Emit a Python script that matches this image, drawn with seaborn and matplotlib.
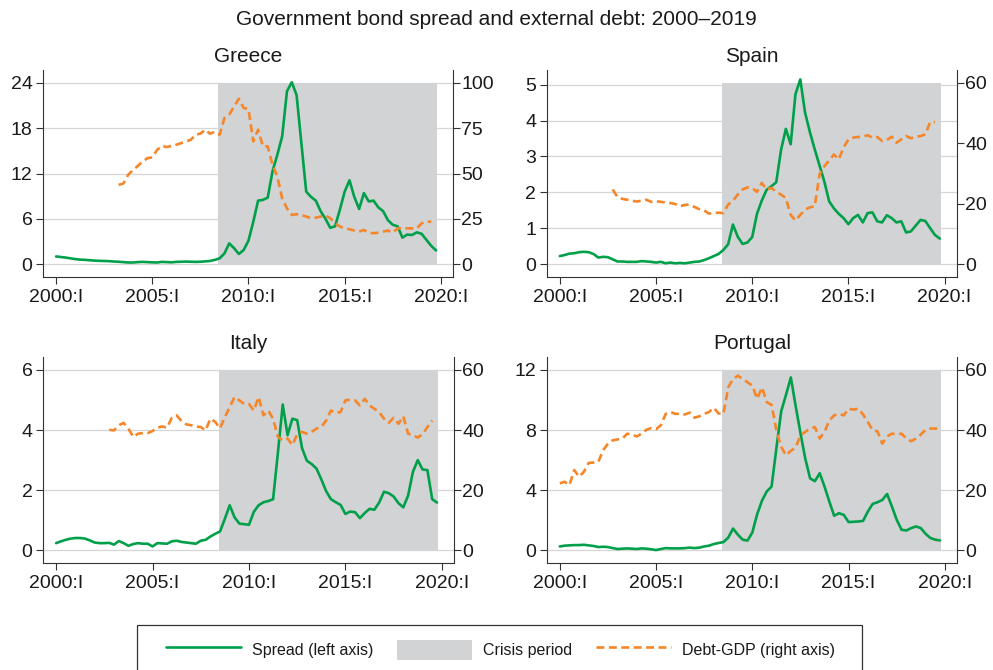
import numpy as np
import pandas as pd
import matplotlib
matplotlib.use("Agg")
import matplotlib.pyplot as plt
from matplotlib.patches import Rectangle, Patch
from matplotlib.lines import Line2D
import seaborn as sns

nan = np.nan

# Quarterly sample 2000:I - 2019:IV
quarters = pd.period_range("2000Q1", "2019Q4", freq="Q")
crisis_start, crisis_end = "2008Q3", "2019Q4"

# Government bond spread vs Germany (percentage points), left axis
spread_greece = [
    1.00, 0.93, 0.85, 0.75, 0.65, 0.58, 0.55, 0.50, 0.45, 0.42, 0.40, 0.38,
    0.33, 0.30, 0.25, 0.20, 0.20, 0.25, 0.28, 0.25, 0.22, 0.20, 0.28, 0.25,
    0.22, 0.28, 0.30, 0.32, 0.30, 0.28, 0.30, 0.35, 0.40, 0.55, 0.75, 1.40,
    2.74, 2.10, 1.33, 1.86, 3.10, 5.60, 8.40, 8.50, 8.80, 12.3, 14.5, 16.9,
    22.9, 24.1, 22.4, 16.0, 9.60, 8.90, 8.40, 7.00, 6.00, 4.80, 5.00, 7.20,
    9.60, 11.1, 8.90, 7.30, 9.40, 8.30, 8.40, 7.50, 7.00, 5.80, 5.20, 5.00,
    3.50, 3.90, 3.85, 4.20, 4.00, 3.20, 2.40, 1.80,
]
spread_spain = [
    0.22, 0.25, 0.29, 0.30, 0.33, 0.34, 0.33, 0.28, 0.18, 0.20, 0.19, 0.13,
    0.07, 0.07, 0.06, 0.06, 0.06, 0.08, 0.07, 0.06, 0.04, 0.06, 0.02, 0.04,
    0.02, 0.03, 0.02, 0.04, 0.06, 0.07, 0.11, 0.16, 0.22, 0.28, 0.39, 0.55,
    1.10, 0.76, 0.56, 0.60, 0.75, 1.40, 1.77, 2.07, 2.17, 2.28, 3.18, 3.77,
    3.34, 4.74, 5.15, 4.22, 3.68, 3.20, 2.75, 2.30, 1.75, 1.55, 1.40, 1.28,
    1.11, 1.28, 1.37, 1.16, 1.42, 1.44, 1.19, 1.16, 1.36, 1.28, 1.16, 1.19,
    0.88, 0.91, 1.07, 1.23, 1.20, 1.00, 0.81, 0.71,
]
spread_italy = [
    0.24, 0.30, 0.35, 0.39, 0.41, 0.41, 0.39, 0.33, 0.26, 0.24, 0.24, 0.25,
    0.19, 0.31, 0.24, 0.15, 0.21, 0.24, 0.22, 0.22, 0.13, 0.24, 0.23, 0.22,
    0.30, 0.32, 0.28, 0.26, 0.24, 0.22, 0.32, 0.35, 0.46, 0.55, 0.63, 1.05,
    1.50, 1.10, 0.89, 0.87, 0.85, 1.28, 1.50, 1.60, 1.64, 1.70, 3.25, 4.85,
    3.83, 4.38, 4.33, 3.40, 2.98, 2.87, 2.72, 2.36, 1.97, 1.70, 1.60, 1.51,
    1.21, 1.29, 1.27, 1.07, 1.24, 1.38, 1.35, 1.59, 1.95, 1.90, 1.79, 1.57,
    1.43, 1.82, 2.61, 3.00, 2.69, 2.67, 1.70, 1.59,
]
spread_portugal = [
    0.26, 0.31, 0.33, 0.35, 0.35, 0.37, 0.33, 0.29, 0.22, 0.24, 0.22, 0.15,
    0.09, 0.11, 0.13, 0.11, 0.09, 0.13, 0.11, 0.07, 0.02, 0.09, 0.15, 0.13,
    0.13, 0.13, 0.15, 0.18, 0.15, 0.18, 0.26, 0.31, 0.42, 0.49, 0.55, 0.85,
    1.45, 1.04, 0.71, 0.65, 1.19, 2.40, 3.30, 3.92, 4.24, 6.80, 9.25, 10.35,
    11.5, 9.60, 7.80, 6.10, 4.79, 4.60, 5.13, 4.24, 3.24, 2.30, 2.47, 2.36,
    1.88, 1.90, 1.92, 1.96, 2.58, 3.09, 3.20, 3.35, 3.75, 2.91, 2.03, 1.37,
    1.32, 1.48, 1.59, 1.48, 1.10, 0.82, 0.71, 0.66,
]

# Net external debt to GDP (percent), right axis
debt_greece = [
    nan, nan, nan, nan, nan, nan, nan, nan, nan, nan, nan, nan,
    nan, 43.7, 44.5, 49.3, 52.0, 54.2, 56.6, 58.5, 58.9, 63.0, 65.3, 64.6,
    65.3, 65.9, 66.8, 67.7, 68.6, 71.4, 72.0, 74.2, 72.0, 73.0, 71.4, 80.6,
    82.5, 87.0, 91.3, 86.2, 85.6, 67.7, 74.2, 65.0, 65.0, 54.8, 48.3, 36.3,
    30.8, 27.1, 27.5, 27.1, 26.2, 25.3, 25.6, 26.2, 26.8, 25.3, 22.5, 20.7,
    19.7, 19.2, 18.5, 17.9, 18.8, 17.3, 17.0, 17.3, 17.9, 18.5, 17.3, 19.7,
    19.7, 19.7, 19.7, 19.7, 22.5, 23.4, 23.4, nan,
]
debt_spain = [
    nan, nan, nan, nan, nan, nan, nan, nan, nan, nan, nan, 24.7,
    22.2, 21.6, 21.3, 21.0, 20.7, 21.0, 21.3, 20.6, 20.8, 20.6, 20.4, 20.2,
    19.9, 19.1, 19.6, 19.7, 18.9, 18.2, 17.8, 16.7, 16.9, 17.0, 16.9, 19.7,
    21.0, 23.0, 24.7, 25.4, 25.2, 23.9, 26.9, 24.7, 25.2, 23.9, 23.0, 21.9,
    16.3, 14.4, 16.3, 18.0, 18.8, 19.1, 29.7, 32.4, 34.3, 36.3, 34.7, 38.6,
    41.3, 41.9, 42.1, 42.2, 42.7, 41.9, 42.1, 40.8, 41.1, 42.2, 40.2, 41.3,
    42.4, 41.7, 42.2, 42.4, 43.0, 47.0, 47.0, nan,
]
debt_italy = [
    nan, nan, nan, nan, nan, nan, nan, nan, nan, nan, nan, 40.1,
    39.9, 41.6, 42.4, 40.5, 37.7, 38.8, 39.0, 39.0, 39.7, 40.8, 41.2, 40.8,
    44.1, 44.9, 43.0, 41.9, 41.6, 41.2, 41.0, 39.9, 43.8, 42.7, 40.6, 44.3,
    47.6, 51.0, 49.9, 48.7, 48.7, 46.5, 51.0, 44.9, 46.5, 43.8, 37.7, 36.6,
    37.2, 35.0, 38.6, 39.4, 38.8, 39.4, 40.5, 41.0, 43.2, 46.5, 45.7, 46.0,
    49.9, 50.1, 49.9, 48.2, 50.4, 48.2, 47.1, 46.0, 43.8, 42.4, 44.1, 42.1,
    44.6, 38.8, 38.3, 37.5, 38.6, 41.0, 43.2, nan,
]
debt_portugal = [
    22.3, 22.8, 21.7, 26.7, 24.5, 26.1, 29.1, 29.2, 29.4, 33.3, 35.5, 36.6,
    36.9, 37.2, 38.8, 38.5, 37.9, 38.8, 40.1, 40.7, 40.3, 41.6, 45.4, 46.0,
    45.4, 45.4, 45.2, 45.8, 44.1, 44.6, 45.4, 46.0, 47.4, 45.5, 45.4, 54.2,
    57.0, 58.1, 57.0, 55.9, 54.8, 50.4, 54.2, 49.3, 48.4, 39.9, 34.4, 31.6,
    33.1, 34.2, 38.3, 39.4, 40.5, 41.0, 37.2, 39.4, 43.2, 44.9, 45.4, 44.9,
    47.1, 46.8, 47.1, 45.2, 42.7, 39.9, 39.6, 35.5, 37.9, 38.8, 38.6, 38.8,
    37.2, 36.3, 37.2, 38.5, 40.1, 40.5, 40.5, 40.5,
]

countries = ["Greece", "Spain", "Italy", "Portugal"]
spreads = [spread_greece, spread_spain, spread_italy, spread_portugal]
debts = [debt_greece, debt_spain, debt_italy, debt_portugal]
left_ticks = [[0, 6, 12, 18, 24], [0, 1, 2, 3, 4, 5], [0, 2, 4, 6], [0, 4, 8, 12]]
right_ticks = [[0, 25, 50, 75, 100], [0, 20, 40, 60], [0, 20, 40, 60], [0, 20, 40, 60]]
x_ticks = [2000, 2005, 2010, 2015, 2020]
x_ticklabels = ["2000:I", "2005:I", "2010:I", "2015:I", "2020:I"]

t = quarters.year + (quarters.quarter - 1) / 4.0
df = pd.DataFrame({"t": t})
for c, s, d in zip(countries, spreads, debts):
    df[f"spread_{c}"] = s
    df[f"debt_{c}"] = d

def to_decimal(q):
    p = pd.Period(q, freq="Q")
    return p.year + (p.quarter - 1) / 4.0

GREEN = "#00A04B"
ORANGE = "#F5862A"
SHADE = "#D1D3D4"
GRID = "#D6D6D6"
INK = "#333333"

sns.set_style("white")
plt.rcParams["font.family"] = ["Liberation Sans", "DejaVu Sans"]
plt.rcParams["axes.edgecolor"] = INK
plt.rcParams["axes.linewidth"] = 0.8

W, H = 993, 670
fig = plt.figure(figsize=(W / 100, H / 100), dpi=100)

# panel boxes in pixel units (x0, y0, x1, y1), y measured from the top
boxes = [(43, 70, 453, 277), (546.7, 70, 956.7, 277),
         (43, 357, 454, 563.3), (546.7, 357, 957, 563.3)]
# value reached by the top of the shaded band (scales right axis too)
band_top = [24, 5.05, 6, 12]

for i, c in enumerate(countries):
    x0, y0, x1, y1 = boxes[i]
    ax = fig.add_axes([x0 / W, 1 - y1 / H, (x1 - x0) / W, (y1 - y0) / H])
    top = band_top[i]
    lo, hi = -0.0718 * top, 1.0718 * top
    ax.set_xlim(1999.32, 2020.63)
    ax.set_ylim(lo, hi)

    ax.set_axisbelow(True)
    ax.grid(axis="y", color=GRID, lw=0.9)
    ax.grid(axis="x", visible=False)

    cs, ce = to_decimal(crisis_start) - 0.075, to_decimal(crisis_end) + 0.04
    ax.fill_between([cs, ce], -0.006 * top, top, color=SHADE, lw=0, zorder=1)

    sns.lineplot(data=df, x="t", y=f"spread_{c}", ax=ax, color=GREEN,
                 lw=1.9, zorder=3, solid_joinstyle="round")

    ax2 = ax.twinx()
    factor = right_ticks[i][-1] / top
    ax2.set_ylim(lo * factor, hi * factor)
    sns.lineplot(data=df.dropna(subset=[f"debt_{c}"]), x="t", y=f"debt_{c}",
                 ax=ax2, color=ORANGE, lw=1.9, linestyle=(0, (3.0, 1.7)), zorder=4)

    ax.set_yticks(left_ticks[i])
    ax.set_xticks(x_ticks)
    ax.set_xticklabels(x_ticklabels)
    ax2.set_yticks(right_ticks[i])
    ax.set_xlabel("")
    ax.set_ylabel("")
    ax2.set_xlabel("")
    ax2.set_ylabel("")

    for s in ("top", "right"):
        ax.spines[s].set_visible(False)
    for s in ("top", "left", "bottom"):
        ax2.spines[s].set_visible(False)
    ax2.spines["right"].set_color(INK)

    ax.tick_params(axis="y", left=True, direction="out", length=5, width=0.8,
                   color=INK, labelsize=14, labelcolor="#1a1a1a", pad=2.5)
    ax.tick_params(axis="x", bottom=True, direction="out", length=5, width=0.8,
                   color=INK, labelsize=14, labelcolor="#1a1a1a", pad=3.5)
    ax2.tick_params(axis="y", right=True, direction="out", length=5, width=0.8,
                    color=INK, labelsize=14, labelcolor="#1a1a1a", pad=1.0)

    ax.set_title(c, fontsize=15, color="#1a1a1a", pad=6)

fig.text(0.5, 1 - 25 / H, "Government bond spread and external debt: 2000\u20132019",
         ha="center", va="baseline", fontsize=15, color="#1a1a1a")

# legend frame running off the bottom edge
frame = Rectangle((137 / W, -0.05), (862 - 137) / W, (1 - 625 / H) + 0.05,
                  transform=fig.transFigure, fill=False, edgecolor=INK, lw=0.9)
fig.add_artist(frame)

handles = [Line2D([], [], color=GREEN, lw=1.9),
           Patch(facecolor=SHADE, edgecolor="none"),
           Line2D([], [], color=ORANGE, lw=1.9, linestyle=(0, (3.0, 1.7)))]
labels = ["Spread (left axis)", "Crisis period", "Debt-GDP (right axis)"]
fig.legend(handles, labels, loc="center", bbox_to_anchor=(0.504, 1 - 650 / H),
           ncol=3, frameon=False, fontsize=11.5, handlelength=4.7,
           handleheight=1.6, handletextpad=0.7, columnspacing=1.45,
           labelcolor="#1a1a1a")

fig.savefig("out.png", dpi=100)
